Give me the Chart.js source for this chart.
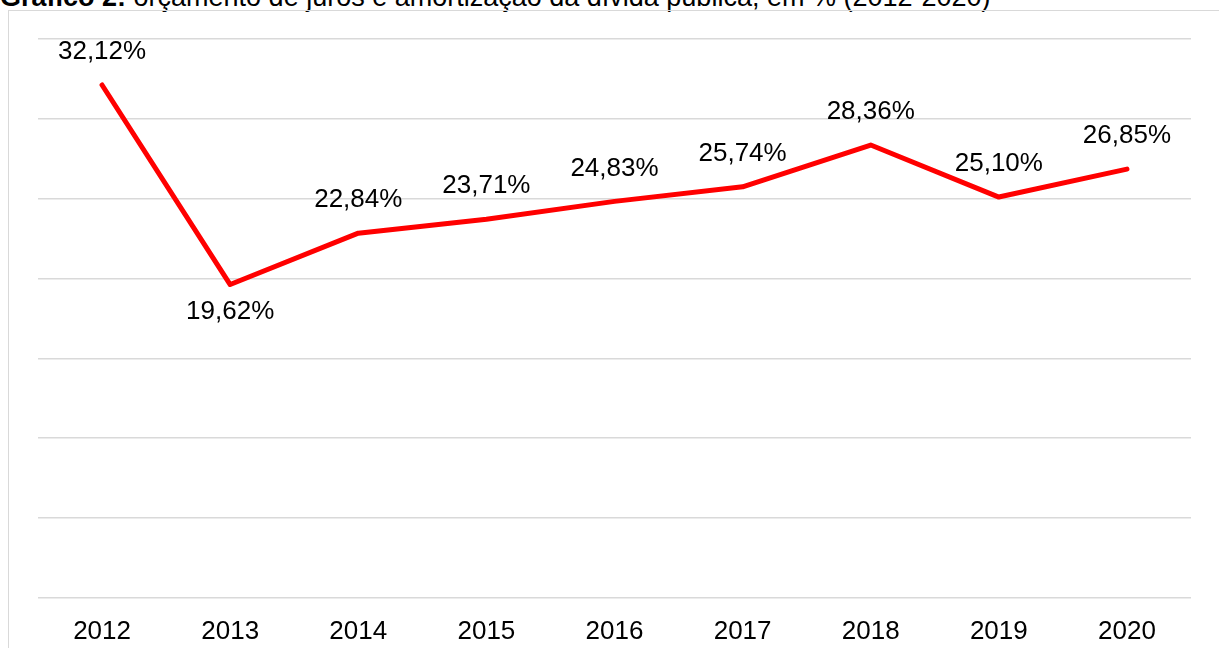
<!DOCTYPE html>
<html>
  <head>
    <meta charset="utf-8">
    <script src="https://cdn.jsdelivr.net/npm/chart.js@4.4.0/dist/chart.umd.min.js"></script>
    <style>
      body {
        margin: 0;
        width: 1219px;
        height: 648px;
        overflow: hidden;
        background: #fff;
        font-family: "Liberation Sans", Arial, sans-serif;
      }
      /* title is partly cut off by the top of the page */
      .title {
        position: absolute;
        left: 0;
        top: -16px;
        font-size: 27px;
        line-height: 27px;
        color: #000;
        white-space: nowrap;
      }
      .frame {
        position: absolute;
        left: 8px;
        top: 10px;
        width: 1300px;
        height: 700px;
        border: 1px solid #d9d9d9;
      }
      .chart-container {
        position: absolute;
        left: 0;
        top: 0;
        width: 1219px;
        height: 662px;
      }
    </style>
  </head>
  <body>
    <div class="title"><b>Gráfico 2:</b> orçamento de juros e amortização da dívida pública, em % (2012-2020)</div>
    <div class="frame"></div>
    <div class="chart-container">
      <canvas id="myChart"></canvas>
    </div>
    <script>
      var years = ["2012", "2013", "2014", "2015", "2016", "2017", "2018", "2019", "2020"];
      var shares = [32.12, 19.62, 22.84, 23.71, 24.83, 25.74, 28.36, 25.10, 26.85];
      var yTicks = [0, 5, 10, 15, 20, 25, 30, 35];

      function fmt(v) {
        return v.toFixed(2).replace(".", ",") + "%";
      }

      // value labels above each point, 2013 goes below its point
      var valueLabels = {
        id: "valueLabels",
        afterDatasetsDraw: function (chart) {
          var ctx = chart.ctx;
          var meta = chart.getDatasetMeta(0);
          ctx.save();
          ctx.font = "26px 'Liberation Sans', Arial, sans-serif";
          ctx.fillStyle = "#000";
          ctx.textAlign = "center";
          ctx.textBaseline = "middle";
          meta.data.forEach(function (pt, i) {
            var y = years[i] === "2013" ? pt.y + 27 : pt.y - 33;
            ctx.fillText(fmt(shares[i]), pt.x, y);
          });
          ctx.restore();
        },
      };

      var ctx = document.getElementById("myChart").getContext("2d");
      var chart = new Chart(ctx, {
        type: "line",
        data: {
          labels: years,
          datasets: [
            {
              data: shares,
              borderColor: "#ff0000",
              borderWidth: 5,
              borderCapStyle: "round",
              borderJoinStyle: "round",
              pointRadius: 0,
              tension: 0,
              fill: false,
            },
          ],
        },
        options: {
          responsive: true,
          maintainAspectRatio: false,
          animation: false,
          layout: {
            padding: { left: 38, right: 28, top: 39, bottom: 5 },
          },
          plugins: {
            legend: { display: false },
            tooltip: { enabled: false },
          },
          scales: {
            x: {
              offset: true,
              grid: { display: false },
              border: { display: false },
              ticks: {
                color: "#000",
                padding: 10,
                font: { size: 26, family: "'Liberation Sans', Arial, sans-serif" },
              },
            },
            y: {
              min: 0,
              max: 35,
              afterBuildTicks: function (axis) {
                axis.ticks = yTicks.map(function (v) { return { value: v }; });
              },
              grid: { color: "#d9d9d9", lineWidth: 1.5, drawTicks: false },
              border: { display: false },
              ticks: { display: false },
            },
          },
        },
        plugins: [valueLabels],
      });
    </script>
  </body>
</html>
